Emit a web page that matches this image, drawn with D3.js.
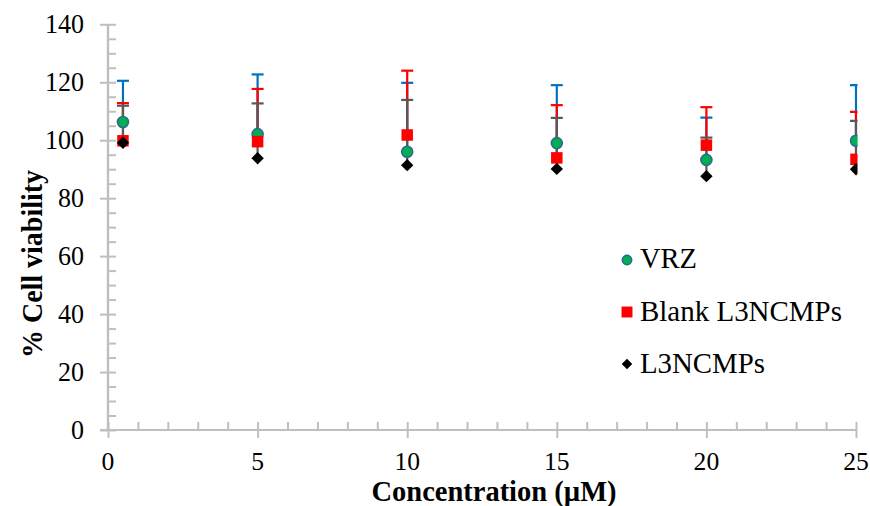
<!DOCTYPE html>
<html>
<head>
<meta charset="utf-8">
<script src="https://cdn.jsdelivr.net/npm/d3@7"></script>
<style>
  html, body { margin: 0; padding: 0; background: #fff; }
  svg { display: block; }
</style>
</head>
<body>
<svg id="chart" width="870" height="506"></svg>
<script>
// ---- data ----
const concentrations = [0.5, 5, 10, 15, 20, 25];
const vrzValues   = [106.3, 102.1, 96.0, 99.0, 93.2, 99.8];
const vrzErrors   = [14.2, 20.6, 23.8, 20.0, 14.6, 19.2];
const blankValues = [99.8, 99.5, 101.8, 93.9, 98.3, 93.4];
const blankErrors = [13.0, 18.2, 22.2, 18.2, 13.1, 16.4];
const l3Values    = [99.1, 93.8, 91.4, 90.1, 87.6, 90.0];
const l3Errors    = [12.8, 18.9, 22.5, 17.6, 13.3, 16.7];
const seriesNames = ["VRZ", "Blank L3NCMPs", "L3NCMPs"];
const xTicks = [0, 5, 10, 15, 20, 25];
const yTicks = [0, 20, 40, 60, 80, 100, 120, 140];
const xTitle = "Concentration (\u00B5M)";
const yTitle = "% Cell viability";

// ---- layout ----
const FONT = '"Liberation Serif", Tinos, "Times New Roman", "DejaVu Serif", "Noto Serif", serif';
const svg = d3.select("#chart");
const x = d3.scaleLinear().domain([0, 25]).range([108, 856]);
const y = d3.scaleLinear().domain([0, 140]).range([430, 24.3]);
const axisColor = "#bfbfbf";

const series = [
  {name: seriesNames[0], values: vrzValues, errors: vrzErrors, err: "#0070C0", shape: "circle"},
  {name: seriesNames[1], values: blankValues, errors: blankErrors, err: "#FF0000", shape: "square"},
  {name: seriesNames[2], values: l3Values, errors: l3Errors, err: "#595959", shape: "diamond"}
];

// ---- axes ----
const minorY = d3.range(0, 141, 5);
const minorX = d3.range(0, 26, 1);

const yMinor = svg.append("g").attr("transform", `translate(${x(0)},0)`)
  .call(d3.axisLeft(y).tickValues(minorY).tickSize(-8).tickFormat(""));
const yMajor = svg.append("g").attr("transform", `translate(${x(0)},0)`)
  .call(d3.axisLeft(y).tickValues(yTicks).tickSize(8).tickFormat(""));
const xMinor = svg.append("g").attr("transform", `translate(0,${y(0)})`)
  .call(d3.axisBottom(x).tickValues(minorX).tickSize(-8).tickFormat(""));
const xMajor = svg.append("g").attr("transform", `translate(0,${y(0)})`)
  .call(d3.axisBottom(x).tickValues(xTicks).tickSize(8).tickFormat(""));

[yMinor, yMajor, xMinor, xMajor].forEach(g => {
  g.selectAll(".domain").attr("stroke", axisColor).attr("stroke-width", 2.2);
  g.selectAll(".tick line").attr("stroke", axisColor).attr("stroke-width", 2);
});
yMinor.select(".domain").attr("d", `M0,${y(0)}V${y(140)}`);
yMajor.select(".domain").attr("d", `M0,${y(0)}V${y(140)}`);
xMinor.select(".domain").attr("d", `M${x(0) - 8},0H${x(25) + 1}`);
xMajor.select(".domain").attr("d", `M${x(0)},0H${x(25) + 1}`);

// text helper: fixed rendered length so glyph widths match the reference
function addText(px, py, str, size, anchor, len, weight, rotate) {
  const g = svg.append("g").attr("transform",
    `translate(${px},${py})` + (rotate ? ` rotate(${rotate})` : ""));
  g.append("text").attr("text-anchor", anchor).attr("font-size", size)
    .attr("font-family", FONT)
    .attr("font-weight", weight || "normal")
    .attr("textLength", len).attr("lengthAdjust", "spacingAndGlyphs")
    .attr("fill", "#000")
    .text(str);
}
yTicks.forEach(t => addText(84, y(t) + 9, String(t), 27, "end", 13 * String(t).length));
xTicks.forEach(t => addText(x(t), 470, String(t), 26, "middle", 12.8 * String(t).length));
addText(494, 501, xTitle, 29, "middle", 245, "bold");
addText(42, 264, yTitle, 30, "middle", 188, "bold", -90);

// ---- plot ----
svg.append("clipPath").attr("id", "plotclip").append("rect")
  .attr("x", x(0)).attr("y", 0).attr("width", x(25) - x(0) + 1.5).attr("height", y(0));
const plot = svg.append("g").attr("clip-path", "url(#plotclip)");

// error bars (plus direction)
series.forEach(s => {
  const g = plot.append("g");
  concentrations.forEach((c, i) => {
    const cx = x(c), y0 = y(s.values[i]), y1 = y(s.values[i] + s.errors[i]);
    g.append("line").attr("x1", cx).attr("x2", cx).attr("y1", y0).attr("y2", y1)
      .attr("stroke", s.err).attr("stroke-width", 2.2);
    g.append("line").attr("x1", cx - 6).attr("x2", cx + 6).attr("y1", y1).attr("y2", y1)
      .attr("stroke", s.err).attr("stroke-width", 2.2);
  });
});

function drawMarker(g, shape, cx, cy, scale) {
  const k = scale || 1;
  if (shape === "circle") {
    g.append("circle").attr("cx", cx).attr("cy", cy).attr("r", 5.5 * k)
      .attr("fill", "#00B050").attr("stroke", "#2E6A8E").attr("stroke-width", 1.6);
  } else if (shape === "square") {
    const s = 11.5 * k;
    g.append("rect").attr("x", cx - s / 2).attr("y", cy - s / 2).attr("width", s).attr("height", s)
      .attr("fill", "#FF0000");
  } else {
    const h = 6.2 * k;
    g.append("path").attr("d", `M${cx},${cy - h}L${cx + h},${cy}L${cx},${cy + h}L${cx - h},${cy}Z`)
      .attr("fill", "#000");
  }
}

series.forEach(s => {
  const g = plot.append("g");
  concentrations.forEach((c, i) => drawMarker(g, s.shape, x(c), y(s.values[i])));
});

// ---- legend ----
const legendY = [260, 312, 364];
const legendBase = [268, 321, 373];
const legendLen = [57, 202, 125];
series.forEach((s, i) => {
  const g = svg.append("g");
  drawMarker(g, s.shape, 627, legendY[i], s.shape === "square" ? 0.95 : 0.85);
  addText(640, legendBase[i], s.name, 29, "start", legendLen[i]);
});
</script>
</body>
</html>
